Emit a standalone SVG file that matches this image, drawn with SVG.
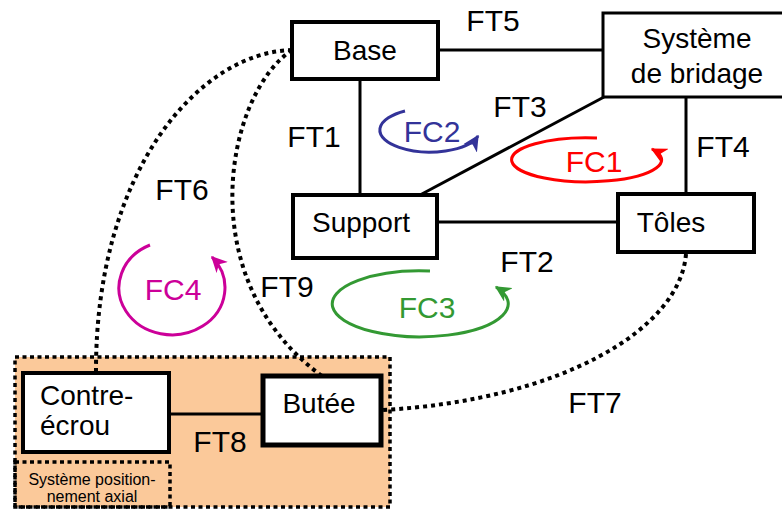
<svg xmlns="http://www.w3.org/2000/svg" width="782" height="511" viewBox="0 0 782 511">
<style>
text{font-family:"Liberation Sans",Arial,sans-serif;fill:#000}
.node{fill:#fff;stroke:#000;stroke-width:4}
.lbl{font-size:28px;text-anchor:middle}
.ft{font-size:30px;text-anchor:middle}
.fc{font-size:30px;text-anchor:middle}
.line{stroke:#000;stroke-width:3;fill:none}
.dot{stroke:#000;stroke-width:4;fill:none;stroke-dasharray:4 4}
.arc{fill:none;stroke-width:3}
</style>
<defs>
<marker id="aB" viewBox="0 0 12 12" refX="11" refY="6" markerWidth="16" markerHeight="16" markerUnits="userSpaceOnUse" orient="auto"><path d="M0,0 L12,6 L0,12 L3.5,6 z" fill="#333399"/></marker>
<marker id="aR" viewBox="0 0 12 12" refX="11" refY="6" markerWidth="16" markerHeight="16" markerUnits="userSpaceOnUse" orient="auto"><path d="M0,0 L12,6 L0,12 L3.5,6 z" fill="#ff0000"/></marker>
<marker id="aG" viewBox="0 0 12 12" refX="11" refY="6" markerWidth="16" markerHeight="16" markerUnits="userSpaceOnUse" orient="auto"><path d="M0,0 L12,6 L0,12 L3.5,6 z" fill="#339933"/></marker>
<marker id="aM" viewBox="0 0 12 12" refX="11" refY="6" markerWidth="16" markerHeight="16" markerUnits="userSpaceOnUse" orient="auto"><path d="M0,0 L12,6 L0,12 L3.5,6 z" fill="#cc0099"/></marker>
</defs>
<rect width="782" height="511" fill="#fff"/>

<g id="groupe-positionnement">
<rect x="15" y="357" width="375" height="150" fill="#fbc99a" stroke="#000" stroke-width="3.5" stroke-dasharray="4 3.5"/>
<rect x="15" y="462" width="155" height="45" fill="none" stroke="#000" stroke-width="3.5" stroke-dasharray="4 3.5"/>
<text x="92" y="485" font-size="16" text-anchor="middle">Système position-</text>
<text x="92" y="502" font-size="16" text-anchor="middle">nement axial</text>
</g>

<g id="connectors">
<line class="line" x1="438" y1="50" x2="603" y2="50"/>
<line class="line" x1="360" y1="80" x2="360" y2="195"/>
<line class="line" x1="420" y1="195" x2="604" y2="97"/>
<line class="line" x1="437" y1="222" x2="618" y2="222"/>
<line class="line" x1="686" y1="97" x2="686" y2="194"/>
<line class="line" x1="169" y1="414" x2="263" y2="414"/>
<path class="dot" d="M292,50 C200,52 95,170 96,373"/>
<path class="dot" d="M292,50 C225,95 190,280 322,376"/>
<path class="dot" d="M686,254 C680,330 560,400 383,410"/>
<text class="ft" x="493" y="31">FT5</text>
<text class="ft" x="314" y="147">FT1</text>
<text class="ft" x="520" y="117">FT3</text>
<text class="ft" x="723" y="157">FT4</text>
<text class="ft" x="527" y="272">FT2</text>
<text class="ft" x="182" y="200">FT6</text>
<text class="ft" x="287" y="297">FT9</text>
<text class="ft" x="595" y="413">FT7</text>
<text class="ft" x="220" y="452">FT8</text>
</g>

<g id="FC2">
<path class="arc" stroke="#333399" d="M405,111 A50,22 0 1,0 478,136" marker-end="url(#aB)"/>
<text class="fc" x="432" y="142" style="fill:#333399">FC2</text>
</g>
<g id="FC1">
<path class="arc" stroke="#ff0000" d="M597,138 A75,22 0 1,0 652,149" marker-end="url(#aR)"/>
<text class="fc" x="594" y="172" style="fill:#ff0000">FC1</text>
</g>
<g id="FC3">
<path class="arc" stroke="#339933" d="M430,271 A88,33 0 1,0 496,287" marker-end="url(#aG)"/>
<text class="fc" x="427" y="318" style="fill:#339933">FC3</text>
</g>
<g id="FC4">
<path class="arc" stroke="#cc0099" d="M150,245 A53,47 0 1,0 212,257" marker-end="url(#aM)"/>
<text class="fc" x="173" y="300" style="fill:#cc0099">FC4</text>
</g>

<g id="base">
<rect class="node" x="292" y="22" width="146" height="57"/>
<text class="lbl" x="365" y="60">Base</text>
</g>
<g id="systeme-bridage">
<rect class="node" x="603" y="13" width="200" height="84" style="stroke-width:3"/>
<text class="lbl" x="697" y="48">Système</text>
<text class="lbl" x="697" y="83">de bridage</text>
</g>
<g id="support">
<rect class="node" x="293" y="195" width="144" height="63"/>
<text class="lbl" x="361" y="232">Support</text>
</g>
<g id="toles">
<rect class="node" x="618" y="194" width="136" height="58"/>
<text class="lbl" x="671" y="232">Tôles</text>
</g>
<g id="contre-ecrou">
<rect class="node" x="23" y="373" width="146" height="79"/>
<text x="40" y="405" font-size="28">Contre-</text>
<text x="40" y="435" font-size="28">écrou</text>
</g>
<g id="butee">
<rect class="node" x="263" y="376" width="118" height="69" style="stroke-width:5"/>
<text class="lbl" x="319" y="413">Butée</text>
</g>
</svg>
